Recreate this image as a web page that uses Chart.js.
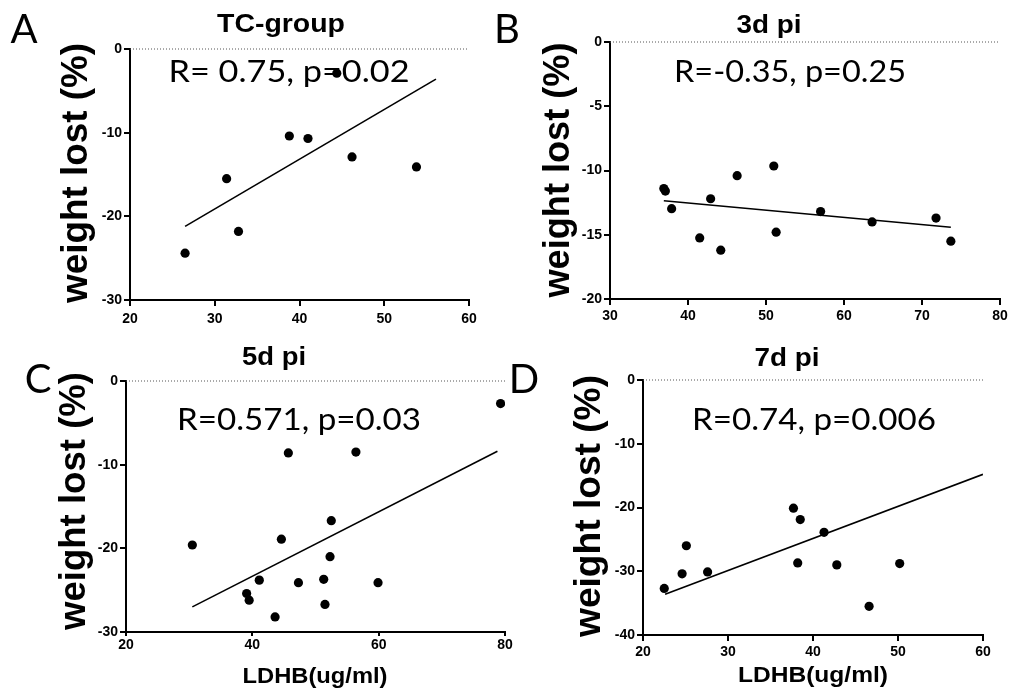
<!DOCTYPE html>
<html><head><meta charset="utf-8">
<script src="https://cdn.jsdelivr.net/npm/chart.js@4.4.1/dist/chart.umd.min.js"></script>
<style>
html,body{margin:0;padding:0;background:#fff;}
#wrap{position:relative;width:1021px;height:692px;overflow:hidden;background:#fff;}
canvas{position:absolute;}
</style></head><body>
<div id="wrap">
<canvas id="cA" width="490" height="340" style="left:0;top:0"></canvas>
<canvas id="cB" width="531" height="340" style="left:490px;top:0"></canvas>
<canvas id="cC" width="520" height="352" style="left:0;top:340px"></canvas>
<canvas id="cD" width="521" height="352" style="left:500px;top:340px"></canvas>
</div>
<script>
// ---- Data ----
const tcX = [26.5, 31.4, 32.8, 38.8, 41.0, 44.4, 46.2, 53.8];
const tcY = [-24.4, -15.5, -21.8, -10.4, -10.7, -2.9, -12.9, -14.1];
const tcFitX = [26.5, 56.1];
const tcFitY = [-21.2, -3.6];
const tcXTicks = [20, 30, 40, 50, 60];
const tcYTicks = [-30, -20, -10, 0];

const d3X = [36.9, 37.1, 37.9, 41.5, 42.9, 44.2, 46.3, 51.0, 51.3, 57.0, 63.6, 71.8, 73.7];
const d3Y = [-11.4, -11.6, -12.97, -15.25, -12.2, -16.2, -10.4, -9.65, -14.8, -13.2, -14.0, -13.7, -15.5];
const d3FitX = [36.9, 73.7];
const d3FitY = [-12.35, -14.42];
const d3XTicks = [30, 40, 50, 60, 70, 80];
const d3YTicks = [-20, -15, -10, -5, 0];

const d5X = [30.5, 39.1, 39.5, 41.1, 43.6, 44.6, 45.7, 47.3, 51.3, 51.5, 52.3, 52.5, 56.4, 59.9, 79.3];
const d5Y = [-19.6, -25.4, -26.2, -23.8, -28.2, -18.9, -8.6, -24.1, -23.7, -26.7, -21.0, -16.7, -8.5, -24.1, -2.7];
const d5FitX = [30.5, 78.8];
const d5FitY = [-27.0, -8.4];
const d5XTicks = [20, 40, 60, 80];
const d5YTicks = [-30, -20, -10, 0];

const d7X = [22.5, 24.6, 25.1, 27.6, 37.7, 38.5, 38.2, 41.3, 42.8, 46.6, 50.2];
const d7Y = [-32.7, -30.4, -26.0, -30.1, -20.1, -21.9, -28.7, -23.9, -29.0, -35.5, -28.8];
const d7FitX = [22.6, 60];
const d7FitY = [-33.6, -14.8];
const d7XTicks = [20, 30, 40, 50, 60];
const d7YTicks = [-40, -30, -20, -10, 0];

const panelTitles = ['TC-group', '3d pi', '5d pi', '7d pi'];
const panelLetters = ['A', 'B', 'C', 'D'];
const statLabels = ['R= 0.75, p=0.02', 'R=-0.35, p=0.25', 'R=0.571, p=0.03', 'R=0.74, p=0.006'];
const yTitle = 'weight lost (%)';
const xTitle = 'LDHB(ug/ml)';

// ---- Text drawing plugin ----
const textPlugin = {
  id: 'panelText',
  afterDraw(chart, args, opts) {
    const ctx = chart.ctx;
    (opts.items || []).forEach(it => {
      ctx.save();
      ctx.font = it.font;
      ctx.fillStyle = '#000';
      ctx.textBaseline = 'alphabetic';
      ctx.textAlign = 'center';
      const w = ctx.measureText(it.text).width;
      const sx = it.width ? it.width / w : 1;
      ctx.translate(it.x, it.y);
      if (it.rotate) ctx.rotate(-Math.PI / 2);
      ctx.scale(sx, 1);
      ctx.fillText(it.text, 0, 0);
      ctx.restore();
    });
  }
};

const BOLD = '"Liberation Sans", Arial, sans-serif';
const REG = 'Lato, "Open Sans", sans-serif';

function axis(ticksArr, fitFn, tickLen, pad) {
  return {
    type: 'linear',
    min: ticksArr[0],
    max: ticksArr[ticksArr.length - 1],
    afterBuildTicks: s => { s.ticks = ticksArr.map(v => ({ value: v })); },
    ticks: { font: { family: BOLD, size: 14, weight: 'bold' }, color: '#000', padding: pad, autoSkip: false, maxRotation: 0 },
    grid: { drawOnChartArea: false, drawTicks: true, tickLength: tickLen, color: '#000', lineWidth: 2 },
    border: { display: true, color: '#000', width: 2 },
    afterFit: fitFn
  };
}

function makeChart(id, c) {
  const cv = document.getElementById(id);
  const W = cv.width, H = cv.height;
  new Chart(cv, {
    type: 'scatter',
    data: {
      datasets: [
        { data: c.xs.map((x, i) => ({ x: x, y: c.ys[i] })), backgroundColor: '#000', borderColor: '#000',
          pointRadius: 4.6, pointHoverRadius: 4.6, borderWidth: 0, order: 1 },
        { type: 'line', showLine: true, data: c.fitX.map((x, i) => ({ x: x, y: c.fitY[i] })),
          borderColor: '#000', borderWidth: 1.6, pointRadius: 0, fill: false, order: 2 },
        { type: 'line', showLine: true, data: [{ x: c.xt[0], y: 0 }, { x: c.xt[c.xt.length - 1], y: 0 }],
          borderColor: '#555', borderWidth: 1, borderDash: [1, 2], pointRadius: 0, fill: false, clip: false, order: 3 }
      ]
    },
    options: {
      responsive: false, animation: false, events: [],
      layout: { padding: { left: 0, top: c.area.top, right: W - c.area.right, bottom: 0 } },
      plugins: { legend: { display: false }, tooltip: { enabled: false }, panelText: { items: c.texts } },
      scales: {
        x: axis(c.xt, s => { s.height = H - c.area.bottom; }, c.xTickLen, c.xPad),
        y: axis(c.yt, s => { s.width = c.area.left; }, 6, 2)
      }
    },
    plugins: [textPlugin]
  });
}

function texts(i, t) {
  const items = [
    { text: panelLetters[i], x: t.letter[0], y: t.letter[1], font: '40px ' + REG },
    { text: panelTitles[i], x: t.title[0], y: t.title[1], font: 'bold 25px ' + BOLD, width: t.title[2] },
    { text: statLabels[i], x: t.stat[0], y: t.stat[1], font: '30px ' + REG, width: t.stat[2] },
    { text: yTitle, x: t.ylab[0], y: t.ylab[1], font: 'bold 37px ' + BOLD, width: t.ylab[2], rotate: true }
  ];
  if (t.xlab) items.push({ text: xTitle, x: t.xlab[0], y: t.xlab[1], font: 'bold 22px ' + BOLD, width: t.xlab[2] });
  return items;
}

makeChart('cA', { xs: tcX, ys: tcY, fitX: tcFitX, fitY: tcFitY, xt: tcXTicks, yt: tcYTicks,
  area: { left: 130, right: 469, top: 49, bottom: 300 }, xTickLen: 6, xPad: 5,
  texts: texts(0, { letter: [24, 43], title: [281, 32, 128], stat: [289, 82, 241], ylab: [87, 173, 260] }) });

makeChart('cB', { xs: d3X, ys: d3Y, fitX: d3FitX, fitY: d3FitY, xt: d3XTicks, yt: d3YTicks,
  area: { left: 120, right: 510, top: 42, bottom: 299 }, xTickLen: 6, xPad: 3,
  texts: texts(1, { letter: [17, 43], title: [279, 33, 65], stat: [300, 82, 232], ylab: [79, 170, 255] }) });

makeChart('cC', { xs: d5X, ys: d5Y, fitX: d5FitX, fitY: d5FitY, xt: d5XTicks, yt: d5YTicks,
  area: { left: 126, right: 505, top: 41, bottom: 292 }, xTickLen: 4, xPad: 1,
  texts: texts(2, { letter: [38, 53], title: [274, 25, 64], stat: [299, 90, 244], ylab: [85, 161, 258], xlab: [315, 343, 145] }) });

makeChart('cD', { xs: d7X, ys: d7Y, fitX: d7FitX, fitY: d7FitY, xt: d7XTicks, yt: d7YTicks,
  area: { left: 143, right: 483, top: 40, bottom: 295 }, xTickLen: 6, xPad: 3,
  texts: texts(3, { letter: [24, 53], title: [287, 26, 65], stat: [314, 90, 244], ylab: [100, 166, 262], xlab: [313, 342, 150] }) });
</script>
</body></html>
